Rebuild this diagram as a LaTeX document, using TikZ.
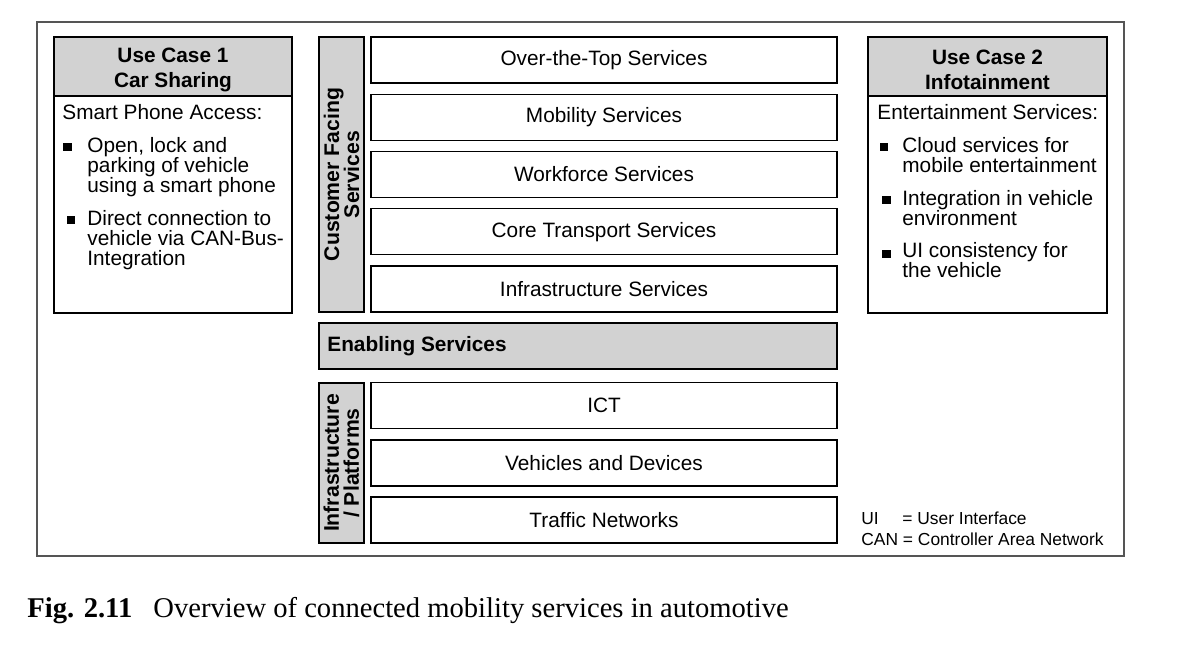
\documentclass[tikz,border=0pt]{standalone}
\usepackage{fontspec}
\setmainfont{Liberation Sans}
\newfontfamily\capfont{Liberation Serif}
\definecolor{hdr}{RGB}{210,210,210}
\definecolor{framec}{RGB}{85,85,85}
\begin{document}
\begin{tikzpicture}[x=0.5pt,y=-0.5pt,
  box/.style={draw=black, line width=0.6pt, fill=white, inner sep=0pt,
    font=\fontsize{10.4}{10}\selectfont},
  greybox/.style={draw=black, line width=0.6pt, fill=hdr, inner sep=0pt},
  svc/.style={box, minimum width=233pt, minimum height=23pt},
  side/.style={greybox, minimum width=22.5pt},
  sidetxt/.style={rotate=90, align=center, inner sep=0pt,
    font=\fontsize{10.6}{10}\bfseries\selectfont},
  ln/.style={anchor=base west, inner sep=0pt, font=\fontsize{10.4}{10}\selectfont},
  ttl/.style={align=center, inner sep=0pt, font=\fontsize{10.4}{12.5}\bfseries\selectfont},
  sq/.style={fill=black, draw=none, minimum width=4.2pt, minimum height=3.8pt, inner sep=0pt},
  leg/.style={anchor=base west, inner sep=0pt, font=\fontsize{8.7}{10}\selectfont},
  captxt/.style={anchor=base west, inner sep=0pt, font=\capfont\fontsize{14.3}{16}\selectfont}
]
\useasboundingbox (0,0) rectangle (1194,654);
% outer frame
\node[draw=framec, line width=1pt, minimum width=543.5pt, minimum height=267pt, inner sep=0pt] (frame) at (580.5,289) {};

% Use case 1
\node[box, minimum width=119pt, minimum height=138pt] (uc1) at (173,175) {};
\node[greybox, minimum width=119pt, minimum height=29.5pt] (uc1h) at (173,66.5) {};
\node[ttl] (uc1t) at (173,69.5) {Use Case 1\\Car Sharing};
\node[ln] (uc1a) at (62,119) {Smart Phone Access:};
\node[sq] (uc1s1) at (67.5,147) {};
\node[ln] (uc1b1) at (87,152) {Open, lock and};
\node[ln] (uc1b2) at (87,172) {parking of vehicle};
\node[ln] (uc1b3) at (87,192) {using a smart phone};
\node[sq] (uc1s2) at (71,220) {};
\node[ln] (uc1c1) at (87,225) {Direct connection to};
\node[ln] (uc1c2) at (87,245) {vehicle via CAN-Bus-};
\node[ln] (uc1c3) at (87,265) {Integration};

% Use case 2
\node[box, minimum width=119.5pt, minimum height=138pt] (uc2) at (987.5,175) {};
\node[greybox, minimum width=119.5pt, minimum height=29.5pt] (uc2h) at (987.5,66.5) {};
\node[ttl] (uc2t) at (987.5,69.5) {Use Case 2\\Infotainment};
\node[ln] (uc2a) at (877,119) {Entertainment Services:};
\node[sq] (uc2s1) at (884,147) {};
\node[ln] (uc2b1) at (902,152) {Cloud services for};
\node[ln] (uc2b2) at (902,172) {mobile entertainment};
\node[sq] (uc2s2) at (886.5,200) {};
\node[ln] (uc2c1) at (902,205) {Integration in vehicle};
\node[ln] (uc2c2) at (902,225) {environment};
\node[sq] (uc2s3) at (886.5,254) {};
\node[ln] (uc2d1) at (902,257) {UI consistency for};
\node[ln] (uc2d2) at (902,277) {the vehicle};

% customer facing services
\node[side, minimum height=137.5pt] (cfs) at (341.5,174.5) {};
\node[sidetxt] (cfst) at (341.5,174.5) {Customer Facing\\Services};
\node[svc] (ott) at (604,60) {Over-the-Top Services};
\node[svc] (mob) at (604,117.25) {Mobility Services};
\node[svc] (wfs) at (604,174.5) {Workforce Services};
\node[svc] (cts) at (604,231.75) {Core Transport Services};
\node[svc] (ifs) at (604,289) {Infrastructure Services};

% enabling services
\node[greybox, minimum width=259pt, minimum height=23pt] (ens) at (578,346) {};
\node[anchor=west, inner sep=0pt, font=\fontsize{10.4}{10}\bfseries\selectfont] (enst) at (327,346) {Enabling Services};

% infrastructure / platforms
\node[side, minimum height=80pt] (ifp) at (341.5,463) {};
\node[sidetxt] (ifpt) at (341.5,463) {Infrastructure\\/ Platforms};
\node[svc] (ict) at (604,405.5) {ICT};
\node[svc] (vad) at (604,463) {Vehicles and Devices};
\node[svc] (trn) at (604,520) {Traffic Networks};

% legend
\node[leg] (lg1a) at (861,524) {UI};
\node[leg] (lg1b) at (902,524) {= User Interface};
\node[leg] (lg2) at (861,545) {CAN = Controller Area Network};

% caption
\node[captxt, font=\capfont\fontsize{14.3}{16}\bfseries\selectfont] (capa) at (27,617) {Fig. 2.11};
\node[captxt] (capb) at (153,617) {Overview of connected mobility services in automotive};
\end{tikzpicture}
\end{document}
